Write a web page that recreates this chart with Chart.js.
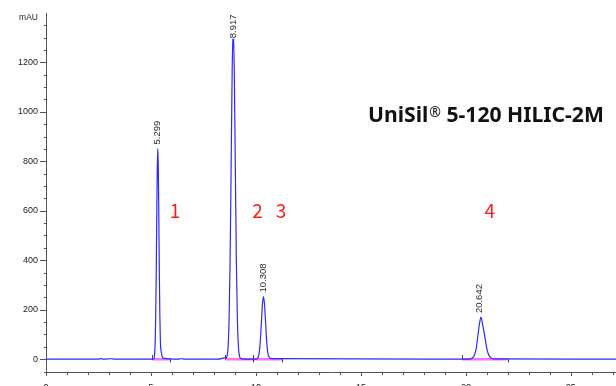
<!DOCTYPE html>
<html>
<head>
<meta charset="utf-8">
<script src="https://cdn.jsdelivr.net/npm/chart.js@4/dist/chart.umd.min.js"></script>
<style>
html,body{margin:0;padding:0;background:#fff;}
canvas{display:block;}
</style>
</head>
<body>
<canvas id="c" width="616" height="386"></canvas>
<script>
// ---- data ----
const traceTime = [0, 2.5, 2.6, 2.75, 3.1, 3.25, 5.0, 5.1, 5.149, 5.174, 5.199, 5.224, 5.249, 5.274, 5.299, 5.324, 5.349, 5.374, 5.399, 5.424, 5.449, 5.5, 5.6, 6.3, 6.45, 6.6, 8.2, 8.4, 8.5, 8.567, 8.617, 8.667, 8.717, 8.767, 8.817, 8.867, 8.917, 8.967, 9.017, 9.067, 9.117, 9.167, 9.217, 9.27, 9.35, 9.6, 10.0, 10.058, 10.108, 10.158, 10.208, 10.258, 10.308, 10.358, 10.408, 10.458, 10.508, 10.558, 10.62, 10.75, 20.0, 20.092, 20.192, 20.292, 20.392, 20.492, 20.567, 20.642, 20.717, 20.792, 20.892, 20.992, 21.092, 21.2, 21.35, 27.2];
const traceAbs  = [0, 0, 2, 0, 1.5, 0, 0, 0.5, 2, 22, 65, 163, 336, 563, 769, 852, 772, 570, 345, 170, 70, 24, 3, 0, 1.5, 0, 0, 3, 5, 4, 10, 41, 146, 383, 768, 1163, 1335, 1170, 785, 400, 158, 48, 12, 3, 1, 0, 0, 2, 8, 28, 73, 145, 220, 253, 222, 150, 78, 30, 9, 2, 0, 0, 1, 4, 14, 42, 92, 140, 170, 142, 96, 45, 16, 5, 1, 0, 0];

const peakTimes   = [5.299, 8.917, 10.308, 20.642];
const peakHeights = [852, 1335, 253, 170];
const peakLabels  = ['5.299', '8.917', '10.308', '20.642'];

const baselineStart = [5.03, 8.52, 9.84, 19.80];
const baselineEnd   = [5.90, 9.84, 11.24, 21.99];

const compoundNames = ['1', '2', '3', '4'];
const compoundTimes = [6.14, 10.08, 11.19, 21.14];
const compoundLevel = [600, 600, 600, 600];

const xTicks = [0, 5, 10, 15, 20, 25];
const yTicks = [0, 200, 400, 600, 800, 1000, 1200];
const yUnit = 'mAU';
const chartTitle = 'UniSil';
const chartTitleMark = '\u00AE';
const chartTitleRest = ' 5-120 HILIC-2M';

// ---- datasets built from the arrays ----
const tracePoints = traceTime.map((t, i) => ({ x: t, y: traceAbs[i] }));
const basePoints = [];
baselineStart.forEach((s, i) => {
  basePoints.push({ x: s, y: 0 });
  basePoints.push({ x: baselineEnd[i], y: 0 });
  basePoints.push({ x: baselineEnd[i], y: null });
});

const overlay = {
  id: 'overlay',
  afterDraw(chart) {
    const ctx = chart.ctx;
    const xs = chart.scales.x, ys = chart.scales.y;
    const area = chart.chartArea;
    ctx.save();
    // y ticks (major + minor)
    ctx.strokeStyle = '#555';
    ctx.lineWidth = 1;
    for (let v = -50; v <= 1350; v += 50) {
      const py = Math.round(ys.getPixelForValue(v)) + 0.5;
      const major = yTicks.includes(v);
      ctx.beginPath();
      ctx.moveTo(area.left - (major ? 6 : 2), py);
      ctx.lineTo(area.left, py);
      ctx.stroke();
    }
    // x ticks (major + minor)
    for (let t = 0; t <= 27; t += 1) {
      const px = Math.round(xs.getPixelForValue(t)) + 0.5;
      const major = xTicks.includes(t);
      ctx.beginPath();
      ctx.moveTo(px, area.bottom);
      ctx.lineTo(px, area.bottom + (major ? 4 : 3));
      ctx.stroke();
    }
    // integration baseline markers
    const y0 = Math.round(ys.getPixelForValue(0));
    ctx.strokeStyle = '#444';
    baselineStart.forEach(s => {
      const px = Math.round(xs.getPixelForValue(s)) + 0.5;
      ctx.beginPath(); ctx.moveTo(px, y0 - 4); ctx.lineTo(px, y0 + 0.5); ctx.stroke();
    });
    baselineEnd.forEach(e => {
      const px = Math.round(xs.getPixelForValue(e)) + 0.5;
      ctx.beginPath(); ctx.moveTo(px, y0); ctx.lineTo(px, y0 + 3.5); ctx.stroke();
    });
    // peak retention-time labels (rotated)
    ctx.font = '9.5px "Liberation Sans", Arial, sans-serif';
    ctx.textBaseline = 'middle';
    ctx.textAlign = 'left';
    peakTimes.forEach((t, i) => {
      const px = xs.getPixelForValue(t);
      const py = ys.getPixelForValue(peakHeights[i]);
      const w = ctx.measureText(peakLabels[i]).width;
      let bottom = py - 4;
      if (bottom - w < area.top) bottom = area.top + w + 1;
      ctx.save();
      ctx.translate(px + 0.5, bottom);
      ctx.rotate(-Math.PI / 2);
      ctx.fillStyle = '#fff';
      ctx.fillRect(-0.5, -4.5, w + 1, 9);
      ctx.fillStyle = '#2a2a2a';
      ctx.fillText(peakLabels[i], 0, 0);
      ctx.restore();
    });
    // compound numbers
    ctx.font = '19px "Noto Sans CJK SC", "Noto Sans", sans-serif';
    ctx.fillStyle = '#ff1a1a';
    ctx.textAlign = 'center';
    ctx.textBaseline = 'middle';
    compoundNames.forEach((n, i) => {
      ctx.fillText(n, xs.getPixelForValue(compoundTimes[i]), ys.getPixelForValue(compoundLevel[i]));
    });
    // title, fitted to its width in the reference
    ctx.fillStyle = '#111';
    ctx.textAlign = 'left';
    ctx.textBaseline = 'alphabetic';
    const tx = 368, tyBase = 122, targetW = 236;
    const fam = '"Noto Sans", "Open Sans", sans-serif';
    const markFont = '14px ' + fam;
    ctx.font = markFont;
    const markW = ctx.measureText(chartTitleMark).width;
    ctx.font = 'bold 20px ' + fam;
    const baseW = ctx.measureText(chartTitle).width + ctx.measureText(chartTitleRest).width;
    const fs = 20 * (targetW - markW - 1) / baseW;
    const titleFont = 'bold ' + fs.toFixed(2) + 'px ' + fam;
    ctx.font = titleFont;
    ctx.fillText(chartTitle, tx, tyBase);
    let cx = tx + ctx.measureText(chartTitle).width + 1;
    ctx.font = markFont;
    ctx.fillText(chartTitleMark, cx, tyBase - 5);
    cx += markW;
    ctx.font = titleFont;
    ctx.fillText(chartTitleRest, cx, tyBase);
    // unit
    ctx.font = '8.5px "Liberation Sans", Arial, sans-serif';
    ctx.fillStyle = '#222';
    ctx.textAlign = 'right';
    ctx.textBaseline = 'middle';
    ctx.fillText(yUnit, 38, 18);
    ctx.restore();
  }
};

new Chart(document.getElementById('c'), {
  type: 'line',
  data: {
    datasets: [
      { data: tracePoints, borderColor: '#2a2aff', borderWidth: 1.2, pointRadius: 0, cubicInterpolationMode: 'monotone', fill: false },
      { data: basePoints, borderColor: '#ff70ff', borderWidth: 2.5, pointRadius: 0, spanGaps: false, fill: false }
    ]
  },
  options: {
    responsive: false,
    animation: false,
    events: [],
    layout: { padding: { top: 12, left: 0, right: 0, bottom: 0 } },
    plugins: { legend: { display: false }, tooltip: { enabled: false }, title: { display: false } },
    scales: {
      x: {
        type: 'linear', min: 0, max: 27.15,
        afterBuildTicks: s => { s.ticks = xTicks.map(v => ({ value: v })); },
        afterFit: s => { s.height = 14; },
        grid: { display: true, drawOnChartArea: false, drawTicks: false, color: 'rgba(0,0,0,0)' },
        border: { display: true, color: '#555', width: 1 },
        ticks: { padding: 10, color: '#222', font: { family: '"Liberation Sans", Arial, sans-serif', size: 9 }, maxRotation: 0, autoSkip: false, callback: v => String(v) }
      },
      y: {
        type: 'linear', min: -52, max: 1398,
        afterBuildTicks: s => { s.ticks = yTicks.map(v => ({ value: v })); },
        afterFit: s => { s.width = 46; },
        grid: { display: true, drawOnChartArea: false, drawTicks: false, color: 'rgba(0,0,0,0)' },
        border: { display: true, color: '#555', width: 1 },
        ticks: { padding: 8, color: '#222', font: { family: '"Liberation Sans", Arial, sans-serif', size: 9 }, callback: v => String(v) }
      }
    }
  },
  plugins: [overlay]
});
</script>
</body>
</html>
